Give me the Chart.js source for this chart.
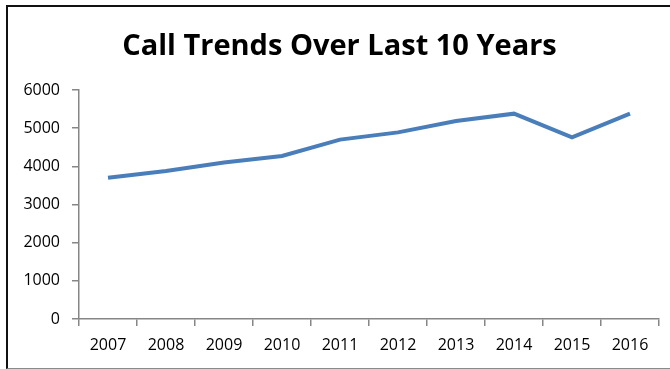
<!DOCTYPE html>
<html lang="en">
<head>
    <meta charset="UTF-8">
    <title>Call Trends Over Last 10 Years</title>
    <script src="https://cdn.jsdelivr.net/npm/chart.js"></script>
    <style>
        body {
            margin: 0;
            padding: 0;
            background: #fff;
        }
        #wrap {
            position: relative;
            width: 670px;
            height: 369px;
            overflow: hidden;
        }
        /* frame round the chart, runs off the right edge */
        #frame {
            position: absolute;
            left: 6px;
            top: 5px;
            width: 700px;
            height: 361px;
            border-left: 2px solid #111;
            border-top: 2px solid #111;
            border-bottom: 1px solid #8a8a8a;
            pointer-events: none;
        }
        canvas {
            position: absolute;
            left: 0;
            top: 0;
        }
    </style>
</head>
<body>
    <div id="wrap">
        <canvas id="callChart" width="670" height="369"></canvas>
        <div id="frame"></div>
    </div>

    <script>
        const years = ['2007', '2008', '2009', '2010', '2011', '2012', '2013', '2014', '2015', '2016'];
        const calls = [3700, 3880, 4100, 4270, 4700, 4890, 5190, 5380, 4760, 5380];
        const yTicks = [0, 1000, 2000, 3000, 4000, 5000, 6000];

        const axisGray = '#868686';

        const ctx = document.getElementById('callChart').getContext('2d');
        new Chart(ctx, {
            type: 'line',
            data: {
                labels: years,
                datasets: [{
                    label: 'Calls',
                    data: calls,
                    borderColor: '#4a7ebb',
                    borderWidth: 4,
                    pointRadius: 0,
                    tension: 0,
                    fill: false
                }]
            },
            options: {
                responsive: false,
                animation: false,
                // left padding pushes the centred title a bit to the right
                layout: { padding: { left: 20, right: 11, top: 0, bottom: 0 } },
                plugins: {
                    legend: { display: false },
                    tooltip: { enabled: false },
                    title: {
                        display: true,
                        text: 'Call Trends Over Last 10 Years',
                        color: '#000',
                        font: { family: 'Open Sans', size: 29, weight: 'bold', lineHeight: 1.2 },
                        padding: { top: 29, bottom: 26.2 }
                    }
                },
                scales: {
                    x: {
                        offset: true,
                        afterFit: s => { s.height = 50; },
                        grid: {
                            offset: true,
                            drawOnChartArea: false,
                            drawTicks: true,
                            tickLength: 7,
                            color: axisGray,
                            lineWidth: 1.5
                        },
                        border: { color: axisGray, width: 1.5 },
                        ticks: {
                            color: '#000',
                            font: { family: 'Open Sans', size: 16 },
                            padding: 10,
                            maxRotation: 0
                        }
                    },
                    y: {
                        min: yTicks[0],
                        max: yTicks[yTicks.length - 1],
                        afterFit: s => { s.width = 59; },
                        afterBuildTicks: s => { s.ticks = yTicks.map(v => ({ value: v })); },
                        grid: {
                            drawOnChartArea: false,
                            drawTicks: true,
                            tickLength: 7,
                            color: axisGray,
                            lineWidth: 1.5
                        },
                        border: { color: axisGray, width: 1.5 },
                        ticks: {
                            color: '#000',
                            font: { family: 'Open Sans', size: 16 },
                            padding: 12,
                            callback: v => String(v)
                        }
                    }
                }
            }
        });
    </script>
</body>
</html>
